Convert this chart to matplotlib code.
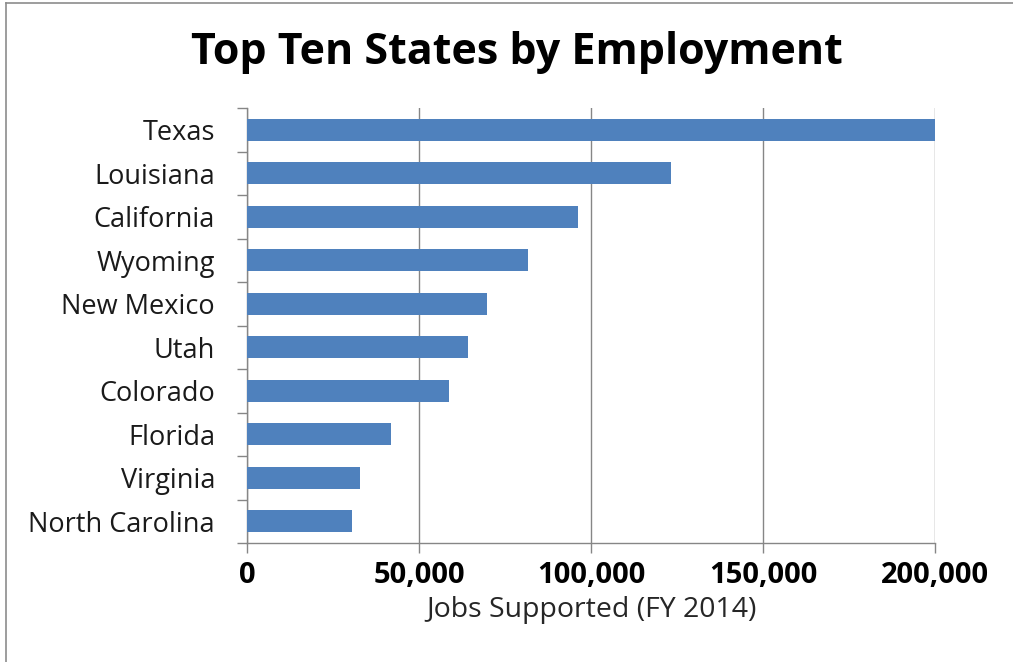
import matplotlib
matplotlib.use("Agg")
import matplotlib.pyplot as plt
from matplotlib.lines import Line2D
from matplotlib.ticker import FuncFormatter, FixedLocator, NullFormatter

states = ["Texas", "Louisiana", "California", "Wyoming", "New Mexico",
          "Utah", "Colorado", "Florida", "Virginia", "North Carolina"]
jobs = [200000, 123300, 96200, 81700, 69800, 64200, 58700, 41900, 32800, 30500]
x_ticks = [0, 50000, 100000, 150000, 200000]

plt.rcParams["font.family"] = ["Open Sans", "DejaVu Sans"]

fig = plt.figure(figsize=(10.13, 6.62), dpi=100)
ax = fig.add_axes([247 / 1013, 1 - 543 / 662, (935 - 247) / 1013, (543 - 108) / 662])

n = len(states)
ypos = list(range(n))[::-1]
ax.barh(ypos, jobs, height=0.5, color="#4F81BD", zorder=3)

ax.set_xlim(0, 200000)
ax.set_ylim(-0.5, n - 0.5)

ax.xaxis.set_major_locator(FixedLocator(x_ticks))
ax.xaxis.set_major_formatter(FuncFormatter(lambda v, p: f"{int(v):,}"))
ax.grid(axis="x", color="#868686", linewidth=1.0, zorder=0)

ax.set_yticks(ypos)
ax.set_yticklabels(states)
ax.set_yticks([i - 0.5 for i in range(n + 1)], minor=True)
ax.yaxis.set_minor_formatter(NullFormatter())
ax.tick_params(axis="y", which="major", length=0, pad=23, labelsize=19.5, labelcolor="#1a1a1a")
ax.tick_params(axis="y", which="minor", length=7, width=1, color="#868686")
ax.tick_params(axis="x", which="major", length=7, width=1, color="#868686",
               labelsize=21, pad=6)
for lbl in ax.get_xticklabels():
    lbl.set_fontweight("bold")

for side in ("top", "right"):
    ax.spines[side].set_visible(False)
for side in ("left", "bottom"):
    ax.spines[side].set_color("#868686")
    ax.spines[side].set_linewidth(1.0)

ax.set_xlabel("Jobs Supported (FY 2014)", fontsize=20.5, color="#262626", labelpad=4)

fig.text(0.510, 1 - 52 / 662, "Top Ten States by Employment", ha="center", va="center",
         fontsize=31, fontweight="bold", color="black")

# chart-area frame
fig.add_artist(Line2D([6 / 1013, 6 / 1013], [0, 1 - 3 / 662], transform=fig.transFigure,
                      color="#8c8c8c", linewidth=1.2))
fig.add_artist(Line2D([6 / 1013, 1], [1 - 3 / 662, 1 - 3 / 662], transform=fig.transFigure,
                      color="#8c8c8c", linewidth=1.2))

fig.savefig("out.png", dpi=100)
